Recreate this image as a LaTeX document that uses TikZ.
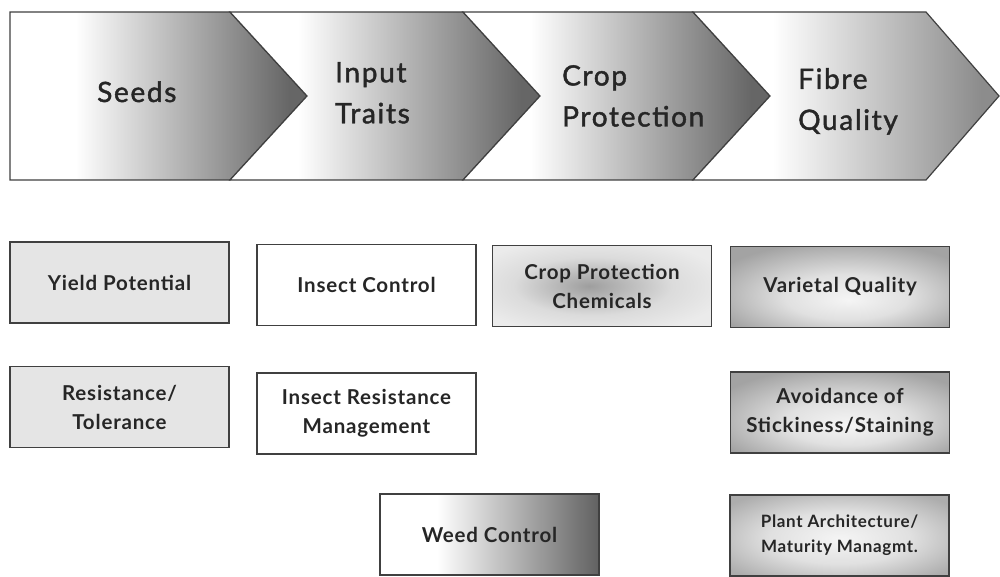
\documentclass[tikz,border=0pt]{standalone}
\usepackage{fontspec}
\setmainfont{Lato}
\newfontfamily\chevfont{Lato}[LetterSpace=6, FakeBold=1.6, BoldFont={Lato}]
\newfontfamily\boxfont{Lato Bold}[LetterSpace=4]
\pgfdeclarehorizontalshading{chevdark}{100bp}{color(0bp)=(white); color(25bp)=(white); color(36bp)=(white); color(72bp)=(black!60); color(100bp)=(black!60)}
\pgfdeclarehorizontalshading{chevlight}{100bp}{color(0bp)=(white); color(25bp)=(white); color(38bp)=(white); color(72bp)=(black!45); color(100bp)=(black!45)}
\pgfdeclarehorizontalshading{weedshade}{100bp}{color(0bp)=(white); color(25bp)=(white); color(38bp)=(white); color(75bp)=(black!62); color(100bp)=(black!62)}
\pgfdeclareradialshading{cpcshade}{\pgfpoint{-3bp}{0bp}}{color(0bp)=(black!38); color(18bp)=(black!14); color(30bp)=(black!8); color(60bp)=(black!8)}
\pgfdeclareradialshading{varshade}{\pgfpoint{2bp}{-8bp}}{color(0bp)=(black!4); color(14bp)=(black!12); color(32bp)=(black!36); color(60bp)=(black!36)}
\pgfdeclareradialshading{plantshade}{\pgfpoint{0bp}{-2bp}}{color(0bp)=(black!4); color(16bp)=(black!12); color(32bp)=(black!32); color(60bp)=(black!32)}
\begin{document}
\begin{tikzpicture}[x=1pt,y=-1pt,
  edge/.style={draw=black!75, line width=1.2pt, line join=miter},
  chevtext/.style={inner sep=0pt, anchor=north west, align=left, text=black!85,
    font=\chevfont\bfseries\fontsize{28}{41}\selectfont},
  box/.style={edge, minimum width=219pt, minimum height=81pt, align=center,
    inner sep=0pt, text=black!85, font=\boxfont\fontsize{20.5}{29}\selectfont},
  smallbox/.style={box, font=\boxfont\fontsize{17}{25}\selectfont}]
\useasboundingbox (0,0) rectangle (1000,577);
\fill[white] (0,0) rectangle (1000,577);
% chevrons
\path[edge, shading=chevdark] (10,12) -- (230,12) -- (307,96) -- (230,180) -- (10,180) -- cycle;
\path[edge, shading=chevdark] (230,12) -- (463,12) -- (540,96) -- (463,180) -- (230,180) -- (307,96) -- cycle;
\path[edge, shading=chevdark] (463,12) -- (693,12) -- (770,96) -- (693,180) -- (463,180) -- (540,96) -- cycle;
\path[edge, shading=chevlight] (693,12) -- (926,12) -- (999,96) -- (926,180) -- (693,180) -- (770,96) -- cycle;
\node[chevtext, anchor=base west] (seeds) at (97,102) {Seeds};
\node[chevtext] (traits) at (335,62) {Input\\Traits};
\node[chevtext] (cropprot) at (562,65) {Crop\\Protection};
\node[chevtext] (fibre) at (798,68) {Fibre\\Quality};
% boxes
\node[box, fill=black!10] (yield) at (119.5,282.5) {Yield Potential};
\node[box, fill=white] (insect) at (366.5,285) {Insect Control};
\node[box, shading=cpcshade] (cpc) at (602,286) {Crop Protection\\Chemicals};
\node[box, shading=varshade] (varq) at (840,287) {Varietal Quality};
\node[box, fill=black!10] (resist) at (119.5,407) {Resistance/\\Tolerance};
\node[box, fill=white] (irm) at (366.5,413.5) {Insect Resistance\\Management};
\node[box, shading=varshade] (avoid) at (840,412.5) {Avoidance of\\Stickiness/Staining};
\node[box, shading=weedshade] (weed) at (489.5,534.5) {Weed Control};
\node[smallbox, shading=plantshade] (plant) at (839.5,535.5) {Plant Architecture/\\Maturity Managmt.};
\end{tikzpicture}
\end{document}
